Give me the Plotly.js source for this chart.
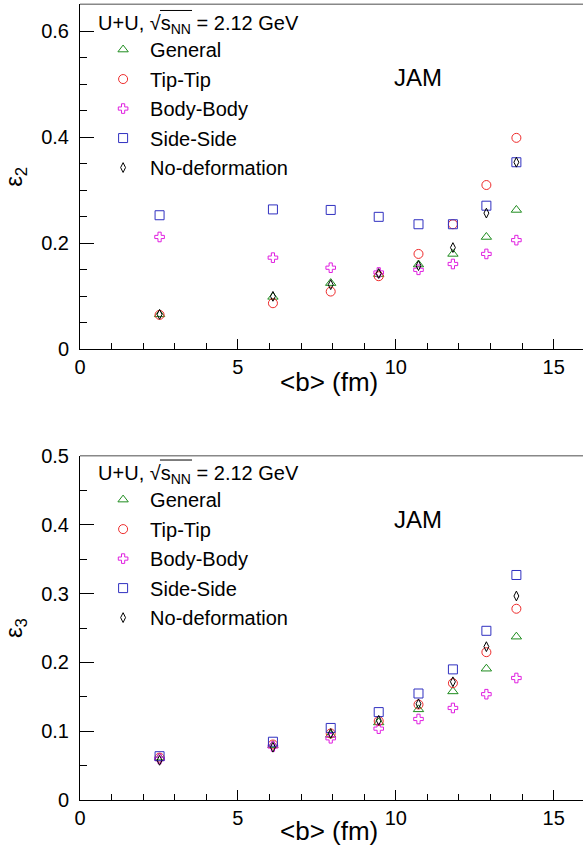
<!DOCTYPE html>
<html>
<head>
<meta charset="utf-8">
<script src="https://cdn.plot.ly/plotly-3.0.1.min.js"></script>
<style>html,body{margin:0;padding:0;background:#fff;}#chart{width:583px;height:845px;}</style>
</head>
<body>
<div id="chart"></div>
<script>
// impact parameter <b> (fm)
const bMean = [2.52, 6.11, 7.94, 9.46, 10.72, 11.81, 12.87, 13.82];

// epsilon_2
const eps2General = [0.066, 0.099, 0.125, 0.142, 0.160, 0.180, 0.212, 0.263];
const eps2TipTip  = [0.065, 0.087, 0.109, 0.138, 0.180, 0.236, 0.310, 0.399];
const eps2BodyBody = [0.212, 0.173, 0.154, 0.145, 0.150, 0.161, 0.180, 0.206];
const eps2SideSide = [0.253, 0.264, 0.263, 0.250, 0.236, 0.236, 0.271, 0.353];
const eps2NoDef   = [0.066, 0.100, 0.122, 0.143, 0.158, 0.192, 0.257, 0.353];

// epsilon_3
const eps3General = [0.062, 0.080, 0.095, 0.113, 0.132, 0.158, 0.191, 0.2375];
const eps3TipTip  = [0.062, 0.081, 0.097, 0.115, 0.139, 0.170, 0.215, 0.278];
const eps3BodyBody = [0.060, 0.078, 0.090, 0.104, 0.118, 0.134, 0.154, 0.1775];
const eps3SideSide = [0.064, 0.085, 0.105, 0.128, 0.155, 0.190, 0.246, 0.327];
const eps3NoDef   = [0.058, 0.077, 0.097, 0.116, 0.140, 0.172, 0.223, 0.2965];

const seriesNames = ["General", "Tip-Tip", "Body-Body", "Side-Side", "No-deformation"];
const headerText = "U+U, √s<sub>NN</sub> = 2.12 GeV";
const xTitle = "&lt;b&gt; (fm)";
const modelLabel = "JAM";

const styles = [
  {symbol: "triangle-up-open", color: "#1e8c1e", size: 9},
  {symbol: "circle-open", color: "#ee2a2a", size: 9},
  {symbol: "cross-open", color: "#e020e0", size: 8},
  {symbol: "square-open", color: "#3030c0", size: 9},
  {symbol: "diamond-tall-open", color: "#000000", size: 7}
];

const eps2Series = [eps2General, eps2TipTip, eps2BodyBody, eps2SideSide, eps2NoDef];
const eps3Series = [eps3General, eps3TipTip, eps3BodyBody, eps3SideSide, eps3NoDef];

const traces = [];
eps2Series.forEach((ys, i) => traces.push({
  x: bMean, y: ys, type: "scatter", mode: "markers", name: seriesNames[i],
  xaxis: "x", yaxis: "y", legend: "legend", legendgroup: "t" + i,
  marker: {symbol: styles[i].symbol, color: styles[i].color, size: styles[i].size, line: {width: 1, color: styles[i].color}}
}));
eps3Series.forEach((ys, i) => traces.push({
  x: bMean, y: ys, type: "scatter", mode: "markers", name: seriesNames[i],
  xaxis: "x2", yaxis: "y2", legend: "legend2", legendgroup: "b" + i,
  marker: {symbol: styles[i].symbol, color: styles[i].color, size: styles[i].size, line: {width: 1, color: styles[i].color}}
}));

const FONT = "Liberation Sans, Arial, Helvetica, sans-serif";

function xAx(anchor) {
  return {
    anchor: anchor, domain: [0, 1], range: [0, 15.93],
    tickmode: "linear", tick0: 0, dtick: 5,
    ticks: "inside", ticklen: 10, tickwidth: 1, tickcolor: "#000",
    minor: {dtick: 1, ticks: "inside", ticklen: 6, tickwidth: 1, tickcolor: "#000"},
    showline: true, linecolor: "#000", linewidth: 1,
    showgrid: false, zeroline: false,
    tickfont: {family: FONT, size: 20, color: "#000"}
  };
}
function yAx(anchor, domain, range, dtick, title) {
  return {
    anchor: anchor, domain: domain, range: range,
    tickmode: "linear", tick0: 0, dtick: dtick,
    ticks: "inside", ticklen: 14, tickwidth: 1, tickcolor: "#000",
    minor: {dtick: 0.05, ticks: "inside", ticklen: 7, tickwidth: 1, tickcolor: "#000"},
    showline: true, linecolor: "#000", linewidth: 1,
    showgrid: false, zeroline: false,
    ticklabelstandoff: 6,
    tickfont: {family: FONT, size: 20, color: "#000"},
    title: {text: title, font: {family: FONT, size: 24, color: "#000"}, standoff: 12}
  };
}

const legendBase = {
  xanchor: "left", yanchor: "top", bgcolor: "rgba(0,0,0,0)",
  font: {family: FONT, size: 20, color: "#000"},
  tracegroupgap: 0.5, itemsizing: "trace", itemwidth: 44
};

const layout = {
  width: 583, height: 845,
  margin: {l: 80, r: 0, t: 0, b: 0},
  paper_bgcolor: "#fff", plot_bgcolor: "#fff",
  showlegend: true,
  xaxis: xAx("y"),
  yaxis: yAx("x", [0.5866, 0.9949], [0, 0.651], 0.2, "ε<sub>2</sub>"),
  xaxis2: xAx("y2"),
  yaxis2: yAx("x2", [0.0529, 0.4606], [0, 0.5], 0.1, "ε<sub>3</sub>"),
  legend: Object.assign({}, legendBase, {x: 0.032, y: 0.9952,
    title: {text: headerText, font: {family: FONT, size: 20, color: "#000"}}}),
  legend2: Object.assign({}, legendBase, {x: 0.032, y: 0.4626,
    title: {text: headerText, font: {family: FONT, size: 20, color: "#000"}}}),
  shapes: [
    {type: "line", xref: "x domain", yref: "y domain", x0: 0, x1: 1, y0: 1, y1: 1, line: {color: "#888", width: 1.5}},
    {type: "line", xref: "x2 domain", yref: "y2 domain", x0: 0, x1: 1, y0: 1, y1: 1, line: {color: "#888", width: 1.5}},
    // overline of the square root in the legend headers
    {type: "line", xref: "paper", yref: "paper", x0: 0.159, x1: 0.2227, y0: 0.9876, y1: 0.9876, line: {color: "#000", width: 1}},
    {type: "line", xref: "paper", yref: "paper", x0: 0.159, x1: 0.2227, y0: 0.4556, y1: 0.4556, line: {color: "#000", width: 1}}
  ],
  annotations: [
    {text: modelLabel, xref: "x domain", yref: "y domain", x: 0.672, y: 0.789, xanchor: "center", yanchor: "middle",
     showarrow: false, font: {family: FONT, size: 24, color: "#000"}},
    {text: modelLabel, xref: "x2 domain", yref: "y2 domain", x: 0.672, y: 0.816, xanchor: "center", yanchor: "middle",
     showarrow: false, font: {family: FONT, size: 24, color: "#000"}},
    {text: xTitle, xref: "x domain", yref: "y domain", x: 0.495, y: -0.095, xanchor: "center", yanchor: "middle",
     showarrow: false, font: {family: FONT, size: 26, color: "#000"}},
    {text: xTitle, xref: "x2 domain", yref: "y2 domain", x: 0.495, y: -0.089, xanchor: "center", yanchor: "middle",
     showarrow: false, font: {family: FONT, size: 26, color: "#000"}}
  ]
};

Plotly.newPlot("chart", traces, layout, {displayModeBar: false, staticPlot: true});
</script>
</body>
</html>
